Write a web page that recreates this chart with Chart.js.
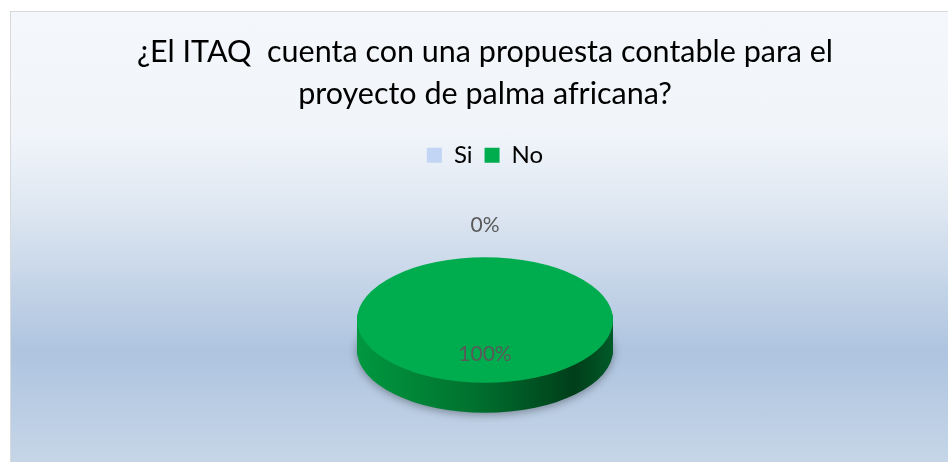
<!DOCTYPE html>
<html lang="es">
<head>
<meta charset="UTF-8">
<title>Propuesta contable ITAQ</title>
<script src="https://cdn.jsdelivr.net/npm/chart.js"></script>
<style>
  body { margin: 0; background: #fff; overflow: hidden; }
  .chart-box {
    position: absolute; left: 10px; top: 11px;
    width: 950px; height: 460px;
    border: 1px solid #d9d9d9; box-sizing: border-box;
    background: linear-gradient(to bottom, #f4f7fb 0px, #f1f5fa 120px, #dde6f1 200px, #aec4df 340px, #c6d6e8 451px);
  }
  #pieChart { position: absolute; left: 0; top: 0; }
</style>
</head>
<body>
<div class="chart-box">
  <canvas id="pieChart" width="948" height="458"></canvas>
</div>
<script>
// data
const titleLines = ['¿El ITAQ  cuenta con una propuesta contable para el', 'proyecto de palma africana?'];
const categories = ['Si', 'No'];
const values = [0, 100];
const sliceColors = ['#c3d5f5', '#00ad4e'];

const FONT = "Lato, Carlito, Calibri, 'Liberation Sans', sans-serif";
const SQUASH = 0.49;   // vertical squash of the pie
const DEPTH = 30;      // thickness of the 3d side
const CENTER_Y = 308;  // where the top face centre lands

function placeY(ctx, arc, dy) {
  ctx.translate(0, CENTER_Y + dy);
  ctx.scale(1, SQUASH);
  ctx.translate(0, -arc.y);
}

const pie3d = {
  id: 'pie3d',
  beforeDatasetsDraw(chart) {
    const ctx = chart.ctx;
    const arcs = chart.getDatasetMeta(0).data;
    arcs.forEach(arc => {
      if (arc.endAngle - arc.startAngle <= 0) return;
      const r = arc.outerRadius;
      const g = ctx.createLinearGradient(arc.x - r, 0, arc.x + r, 0);
      g.addColorStop(0, '#00983f');
      g.addColorStop(0.45, '#00722f');
      g.addColorStop(0.85, '#003e1a');
      g.addColorStop(1, '#005a28');
      const saved = arc.options;
      arc.options = Object.assign({}, saved, { backgroundColor: g, borderWidth: 0 });
      for (let d = DEPTH; d >= 1; d--) {
        ctx.save();
        if (d === DEPTH) {
          ctx.shadowColor = 'rgba(0,0,0,0.35)';
          ctx.shadowBlur = 8;
          ctx.shadowOffsetY = 2;
        }
        placeY(ctx, arc, d);
        arc.draw(ctx);
        ctx.restore();
      }
      arc.options = saved;
    });
    ctx.save();
    placeY(ctx, arcs[0], 0);
  },
  afterDatasetsDraw(chart) {
    const ctx = chart.ctx;
    ctx.restore();
    const arcs = chart.getDatasetMeta(0).data;
    const total = values.reduce((a, b) => a + b, 0);
    ctx.save();
    ctx.font = '21px ' + FONT;
    ctx.fillStyle = '#595959';
    ctx.textAlign = 'center';
    ctx.textBaseline = 'middle';
    arcs.forEach((arc, i) => {
      const mid = (arc.startAngle + arc.endAngle) / 2;
      const r = arc.outerRadius;
      const R = values[i] === 0 ? r + 65 : r * 0.55;
      const x = arc.x + Math.cos(mid) * R;
      const y = CENTER_Y + Math.sin(mid) * R * SQUASH;
      ctx.fillText(Math.round(values[i] / total * 100) + '%', x, y);
    });
    ctx.restore();
  }
};

new Chart(document.getElementById('pieChart'), {
  type: 'pie',
  data: {
    labels: categories,
    datasets: [{
      data: values,
      backgroundColor: sliceColors,
      borderWidth: 0,
      radius: 128,
      clip: false
    }]
  },
  options: {
    responsive: false,
    animation: false,
    events: [],
    layout: { padding: { bottom: 10 } },
    plugins: {
      title: {
        display: true,
        text: titleLines,
        color: '#000',
        font: { family: FONT, size: 30.5, weight: 'normal', lineHeight: 1.35 },
        padding: { top: 20, bottom: 17 }
      },
      legend: {
        position: 'top',
        labels: {
          color: '#000',
          boxWidth: 15,
          boxHeight: 15,
          padding: 12,
          font: { family: FONT, size: 24 }
        }
      },
      tooltip: { enabled: false }
    }
  },
  plugins: [pie3d]
});
</script>
</body>
</html>
